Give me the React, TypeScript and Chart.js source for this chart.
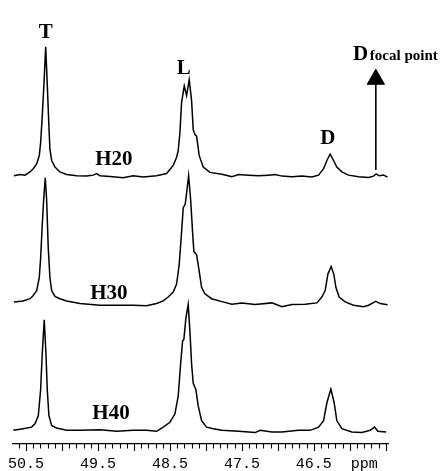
import React, { useEffect, useRef } from 'react';
import { Chart, registerables } from 'chart.js';

Chart.register(...registerables);

// Chemical shift (ppm) and intensity (relative to each spectrum's baseline)
const ppmH20 = [50.667, 50.583, 50.514, 50.444, 50.399, 50.351, 50.315, 50.296, 50.274, 50.25, 50.226, 50.204, 50.181, 50.167, 50.143, 50.097, 50.028, 49.935, 49.796, 49.657, 49.565, 49.518, 49.472, 49.333, 49.149, 49.01, 48.871, 48.685, 48.546, 48.454, 48.407, 48.385, 48.361, 48.338, 48.301, 48.268, 48.232, 48.199, 48.176, 48.153, 48.129, 48.093, 48.037, 47.944, 47.778, 47.639, 47.546, 47.407, 47.268, 47.129, 47.037, 46.944, 46.806, 46.667, 46.528, 46.435, 46.365, 46.319, 46.274, 46.226, 46.181, 46.111, 46.018, 45.879, 45.74, 45.671, 45.635, 45.593, 45.532, 45.476];
const intH20 = [0, 1.3, 0.7, 4, 7.3, 12.3, 20.7, 34, 60.7, 94, 132.3, 94, 50.7, 27.3, 15.7, 9, 4, 1.3, 0, -0.3, 0.7, 2.3, 0, -0.7, -2, 0, -1.3, 0, 2.3, 10.7, 19, 25.7, 44, 75, 92, 82.3, 98.5, 77.3, 47.3, 42.3, 40.7, 20.7, 9, 3.5, 1.5, -1, 1.3, 0.7, 0, 0.7, 1.3, -0.3, -1, -0.3, -1.3, 0.7, 7.3, 15.7, 22.3, 15.7, 9, 4, 0.7, -1, -1.7, -0.3, 2, 0, 0.7, -1.3];

const ppmH30 = [50.667, 50.538, 50.444, 50.399, 50.351, 50.315, 50.296, 50.274, 50.254, 50.232, 50.213, 50.19, 50.167, 50.143, 50.097, 50.028, 49.935, 49.75, 49.472, 49.24, 49.01, 48.824, 48.685, 48.593, 48.524, 48.454, 48.407, 48.371, 48.338, 48.315, 48.288, 48.268, 48.24, 48.212, 48.185, 48.167, 48.129, 48.093, 48.06, 48.014, 47.921, 47.778, 47.639, 47.5, 47.315, 47.083, 46.944, 46.806, 46.621, 46.458, 46.389, 46.343, 46.306, 46.26, 46.222, 46.194, 46.149, 46.065, 45.949, 45.81, 45.74, 45.639, 45.579, 45.476];
const intH30 = [1.7, 2.7, 5, 8.3, 13.3, 26.7, 46.7, 80, 106.7, 129, 106.7, 56.7, 26.7, 13.3, 7.3, 5, 2.7, 0, -1.7, -1.7, -1.7, -2.3, 0, 2.7, 6.7, 11.7, 20, 40, 73.3, 98.3, 101.7, 113.3, 131, 106.7, 73.3, 53.3, 50, 33.3, 16.7, 10, 5, 2, -0.7, 0.7, -1, 0.7, -3.3, -1, -0.7, 0.7, 6.7, 13.3, 30, 38, 30, 16.7, 6.7, 1.7, -1.7, -3.3, -1.7, 2.3, 0, -1.3];

const ppmH40 = [50.676, 50.538, 50.421, 50.375, 50.329, 50.296, 50.274, 50.246, 50.222, 50.204, 50.181, 50.143, 50.074, 49.935, 49.75, 49.472, 49.24, 49.01, 48.824, 48.685, 48.593, 48.5, 48.431, 48.385, 48.351, 48.324, 48.306, 48.278, 48.246, 48.222, 48.199, 48.176, 48.139, 48.107, 48.06, 47.99, 47.899, 47.778, 47.546, 47.315, 47.246, 47.083, 46.944, 46.713, 46.551, 46.435, 46.365, 46.319, 46.264, 46.218, 46.181, 46.111, 45.972, 45.833, 45.718, 45.657, 45.611, 45.496];
const intH40 = [0, 1.7, 3.3, 6.7, 15, 41.7, 78.3, 113.3, 78.3, 41.7, 15, 5, 2.3, 0, 0, 0.7, -1, 0, 0, -1, 3.3, 8.3, 16.7, 35, 68.3, 91.7, 93.3, 115, 129, 101.7, 68.3, 48.3, 41.7, 25, 10, 3.3, 1.7, 0, -1, -2.3, 0, -1.7, -1.7, 0, 0, 3.3, 10, 28.3, 42.3, 28.3, 10, 1.7, -1.7, -2.3, 0, 3.3, -1, -1.7];

// Vertical stacking offsets of the three spectra
const spectrumNames = ['H20', 'H30', 'H40'];
const spectrumOffsets = [275, 144, 14];

// Axis
const axisMin = 45.47;
const axisMax = 50.68;
const labeledTicks = [50.5, 49.5, 48.5, 47.5, 46.5];
const unitTickValue = 45.8;
const unitLabel = 'ppm';

// Peak / spectrum annotations: text, ppm, level
const annText = ['T', 'L', 'D', 'H20', 'H30', 'H40'];
const annPpm = [50.226, 48.306, 46.306, 49.278, 49.347, 49.319];
const annLevel = [416, 379, 308, 286, 149, 26];

// Focal point arrow
const focalPpm = 45.639;
const focalArrowFrom = 281;
const focalArrowTo = 374;
const focalLabelPpm = 45.958;
const focalSubPpm = 45.722;
const focalLabelLevel = 394;

function zip(xs: number[], ys: number[], off: number) {
  const n = Math.min(xs.length, ys.length);
  const out: { x: number; y: number }[] = [];
  for (let i = 0; i < n; i++) out.push({ x: xs[i], y: ys[i] + off });
  return out;
}

function isClose(a: number, b: number) {
  return Math.abs(a - b) < 1e-6;
}

export default function App() {
  const ref = useRef<HTMLCanvasElement | null>(null);

  useEffect(() => {
    if (!ref.current) return;
    const tickVals: number[] = [];
    for (let i = 455; i <= 506; i++) tickVals.push(i / 10);

    const serif = '"Liberation Serif", "Times New Roman", "DejaVu Serif", serif';

    const annotPlugin = {
      id: 'annot',
      afterDraw(chart: any) {
        const ctx = chart.ctx;
        const xs = chart.scales.x;
        const ys = chart.scales.y;
        ctx.save();
        // tick marks
        ctx.strokeStyle = '#000';
        ctx.lineWidth = 1.1;
        for (const t of xs.ticks) {
          const px = Math.round(xs.getPixelForValue(t.value)) + 0.5;
          const tenths = Math.round(t.value * 10);
          const major = tenths % 5 === 0;
          ctx.beginPath();
          ctx.moveTo(px, xs.top);
          ctx.lineTo(px, xs.top + (major ? 7 : 4.5));
          ctx.stroke();
        }
        // labels
        ctx.fillStyle = '#000';
        ctx.textBaseline = 'alphabetic';
        ctx.textAlign = 'center';
        ctx.font = `bold 21px ${serif}`;
        for (let i = 0; i < annText.length; i++) {
          ctx.fillText(annText[i], xs.getPixelForValue(annPpm[i]), ys.getPixelForValue(annLevel[i]));
        }
        ctx.textAlign = 'left';
        ctx.fillText('D', xs.getPixelForValue(focalLabelPpm), ys.getPixelForValue(focalLabelLevel));
        ctx.font = `bold 15px ${serif}`;
        ctx.fillText('focal point', xs.getPixelForValue(focalSubPpm), ys.getPixelForValue(focalLabelLevel));
        ctx.restore();
      },
    };

    const datasets: any[] = [
      zip(ppmH20, intH20, spectrumOffsets[0]),
      zip(ppmH30, intH30, spectrumOffsets[1]),
      zip(ppmH40, intH40, spectrumOffsets[2]),
    ].map((d, i) => ({
      label: spectrumNames[i],
      data: d,
      borderColor: '#000',
      borderWidth: 1.5,
      pointRadius: 0,
      tension: 0,
      fill: false,
    }));
    datasets.push({
      label: 'focal',
      data: [
        { x: focalPpm, y: focalArrowFrom },
        { x: focalPpm, y: focalArrowTo },
      ],
      borderColor: '#000',
      borderWidth: 1.6,
      backgroundColor: '#000',
      pointStyle: 'triangle',
      pointRadius: [0, 10],
      pointBorderWidth: 1,
      pointBackgroundColor: '#000',
      pointBorderColor: '#000',
      fill: false,
    });

    const chart = new Chart(ref.current, {
      type: 'line',
      data: { datasets },
      options: {
        animation: false,
        responsive: false,
        maintainAspectRatio: false,
        layout: { padding: { left: 13, right: 56, top: 0, bottom: 0 } },
        plugins: { legend: { display: false }, tooltip: { enabled: false } },
        scales: {
          x: {
            type: 'linear',
            reverse: true,
            min: axisMin,
            max: axisMax,
            afterBuildTicks: (s: any) => {
              s.ticks = tickVals.map((v) => ({ value: v }));
            },
            afterFit: (s: any) => {
              s.height = 27;
            },
            grid: { display: true, drawOnChartArea: false, drawTicks: false },
            border: { display: true, color: '#000', width: 1.2 },
            ticks: {
              autoSkip: false,
              maxRotation: 0,
              minRotation: 0,
              padding: 11,
              color: '#000',
              font: { family: '"Liberation Mono", "DejaVu Sans Mono", monospace', size: 15 },
              callback: (value: any) => {
                const v = Number(value);
                if (isClose(v, unitTickValue)) return unitLabel;
                for (const l of labeledTicks) if (isClose(v, l)) return l.toFixed(1);
                return '';
              },
            },
          },
          y: { display: false, min: 0, max: 444 },
        },
      },
      plugins: [annotPlugin],
    } as any);
    return () => chart.destroy();
  }, []);

  return (
    <div style={{ position: 'absolute', left: 0, top: 0, width: 444, height: 471, background: '#fff' }}>
      <canvas ref={ref} width={444} height={471} style={{ display: 'block' }} />
    </div>
  );
}
